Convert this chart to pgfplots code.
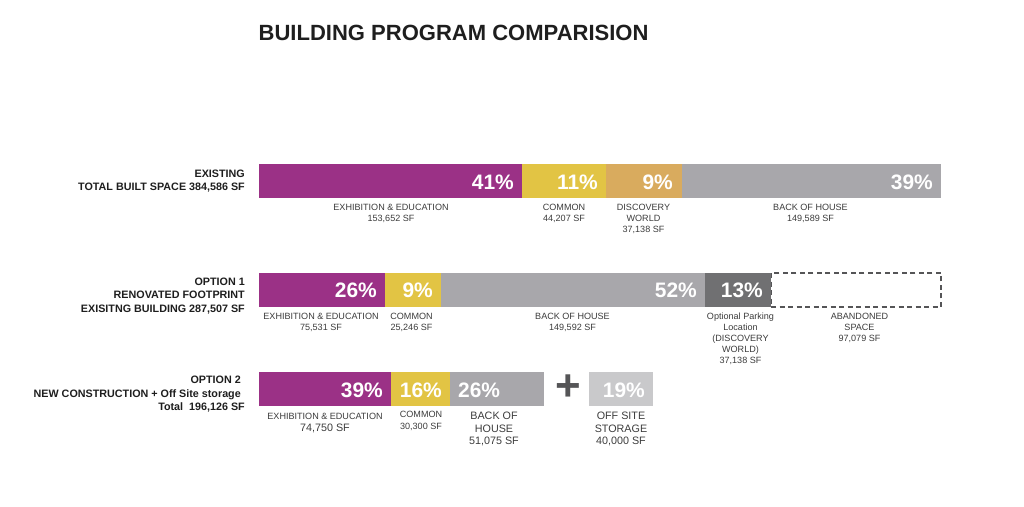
\documentclass[border=0pt]{standalone}
\usepackage{pgfplots}
\pgfplotsset{compat=1.18}
\usepackage{fontspec}
\setmainfont{Liberation Sans}
\definecolor{cpurple}{RGB}{155,49,134}
\definecolor{cyellow}{RGB}{226,196,68}
\definecolor{ctan}{RGB}{217,171,94}
\definecolor{cgray}{RGB}{168,167,171}
\definecolor{cdark}{RGB}{112,112,114}
\definecolor{clight}{RGB}{201,201,203}
\definecolor{ctext}{RGB}{60,60,60}
\definecolor{clabel}{RGB}{30,30,30}
\definecolor{cplus}{RGB}{85,85,87}
\pgfplotsset{rowbar/.style={scale only axis, width=682bp, height=34bp,
  xmin=0, xmax=100, ymin=-0.5, ymax=0.5, hide axis, xbar stacked,
  bar width=34bp, clip=false, anchor=north west}}
\tikzset{
  lab/.style={anchor=north, inner sep=0pt, align=center, text=ctext, font=\fontsize{9.1}{11}\selectfont},
  labL/.style={anchor=north, inner sep=0pt, align=center, text=ctext, font=\fontsize{10.8}{12.7}\selectfont},
  side/.style={anchor=north east, inner sep=0pt, align=right, text=clabel, font=\bfseries\fontsize{10.8}{13.3}\selectfont},
  pct/.style={anchor=base east, inner sep=0pt, text=white, font=\bfseries\fontsize{21}{21}\selectfont}
}
\begin{document}
\begin{tikzpicture}
\useasboundingbox (0,0) rectangle (1024bp,-507bp);
% Title
\node[anchor=base west, inner sep=0pt, text=clabel, font=\bfseries\fontsize{22.1}{26}\selectfont] at (258.5bp,-40bp) {BUILDING PROGRAM COMPARISION};

% Row 1: Existing
\begin{axis}[rowbar, at={(259bp,-164bp)}]
\addplot[fill=cpurple, draw=none] coordinates {(38.56,0)};
\addplot[fill=cyellow, draw=none] coordinates {(12.32,0)};
\addplot[fill=ctan, draw=none] coordinates {(11.14,0)};
\addplot[fill=cgray, draw=none] coordinates {(37.98,0)};
\end{axis}

% Row 2: Option 1
\begin{axis}[rowbar, at={(259bp,-273bp)}]
\addplot[fill=cpurple, draw=none] coordinates {(18.48,0)};
\addplot[fill=cyellow, draw=none] coordinates {(8.21,0)};
\addplot[fill=cgray, draw=none] coordinates {(38.71,0)};
\addplot[fill=cdark, draw=none] coordinates {(9.68,0)};
\addplot[fill=white, draw=cplus, line width=1.5bp, dash pattern=on 5bp off 3.5bp] coordinates {(24.92,0)};
\end{axis}

% Row 3: Option 2
\begin{axis}[rowbar, at={(259bp,-372bp)}]
\addplot[fill=cpurple, draw=none] coordinates {(19.35,0)};
\addplot[fill=cyellow, draw=none] coordinates {(8.65,0)};
\addplot[fill=cgray, draw=none] coordinates {(13.78,0)};
\addplot[fill=none, draw=none] coordinates {(6.60,0)};
\addplot[fill=clight, draw=none] coordinates {(9.38,0)};
\end{axis}

% Side labels
\node[side] at (245bp,-169.5bp) {EXISTING\\TOTAL BUILT SPACE 384,586 SF};
\node[side] at (245bp,-277.9bp) {OPTION 1\\RENOVATED FOOTPRINT\\EXISITNG BUILDING 287,507 SF};
\node[side] at (241bp,-376.2bp) {OPTION 2\\NEW CONSTRUCTION + Off Site storage};
\node[side] at (245bp,-402.8bp) {Total\ \ 196,126 SF};

% Percentages
\node[pct] at (514bp,-189.5bp) {41\%};
\node[pct] at (598bp,-189.5bp) {11\%};
\node[pct] at (673bp,-189.5bp) {9\%};
\node[pct] at (933bp,-189.5bp) {39\%};
\node[pct] at (377bp,-297.5bp) {26\%};
\node[pct] at (433bp,-297.5bp) {9\%};
\node[pct] at (697bp,-297.5bp) {52\%};
\node[pct] at (763bp,-297.5bp) {13\%};
\node[pct] at (383bp,-397bp) {39\%};
\node[pct] at (442bp,-397bp) {16\%};
\node[pct, anchor=base west] at (458bp,-397bp) {26\%};
\node[pct] at (645bp,-397bp) {19\%};

% Plus sign
\node[inner sep=0pt, text=cplus, font=\bfseries\fontsize{44}{44}\selectfont] at (568bp,-388bp) {+};

% Row 1 labels
\node[lab] at (391bp,-203.8bp) {EXHIBITION \& EDUCATION\\153,652 SF};
\node[lab] at (564bp,-203.8bp) {COMMON\\44,207 SF};
\node[lab] at (643.5bp,-203.8bp) {DISCOVERY\\WORLD\\37,138 SF};
\node[lab] at (810.5bp,-203.8bp) {BACK OF HOUSE\\149,589 SF};

% Row 2 labels
\node[lab] at (321bp,-312.8bp) {EXHIBITION \& EDUCATION\\75,531 SF};
\node[lab] at (411.5bp,-312.8bp) {COMMON\\25,246 SF};
\node[lab] at (572.5bp,-312.8bp) {BACK OF HOUSE\\149,592 SF};
\node[lab] at (740.5bp,-312.8bp) {Optional Parking\\Location\\(DISCOVERY\\WORLD)\\37,138 SF};
\node[lab] at (859.5bp,-312.8bp) {ABANDONED\\SPACE\\97,079 SF};

% Row 3 labels
\node[lab] at (325bp,-412.5bp) {EXHIBITION \& EDUCATION};
\node[anchor=base, inner sep=0pt, text=ctext, font=\fontsize{10.8}{12.7}\selectfont] at (325bp,-431.6bp) {74,750 SF};
\node[lab, font=\fontsize{9.1}{12.4}\selectfont] at (421bp,-411.1bp) {COMMON\\30,300 SF};
\node[labL] at (494bp,-411.8bp) {BACK OF\\HOUSE\\51,075 SF};
\node[labL] at (621bp,-411.8bp) {OFF SITE\\STORAGE\\40,000 SF};
\end{tikzpicture}
\end{document}
